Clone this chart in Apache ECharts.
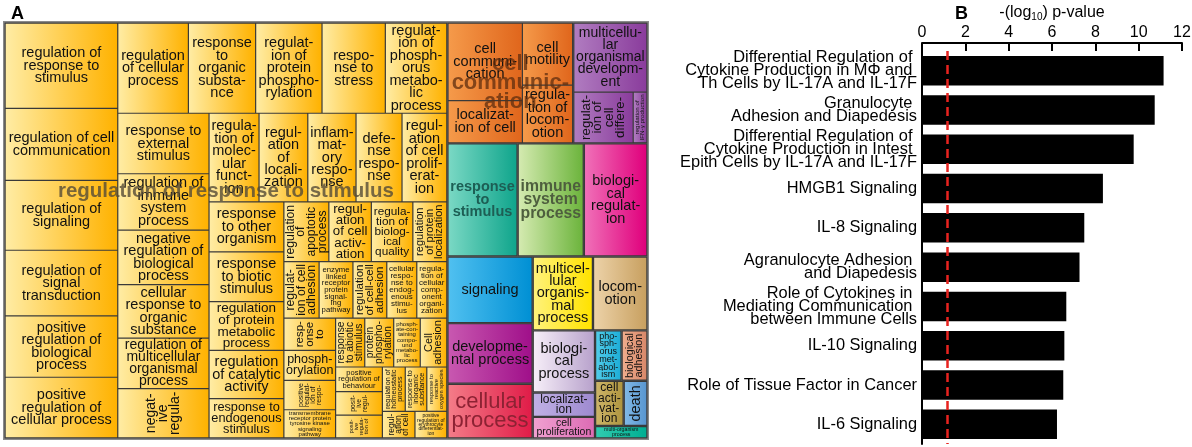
<!DOCTYPE html>
<html><head><meta charset="utf-8">
<script src="https://cdn.jsdelivr.net/npm/echarts@6/dist/echarts.min.js"></script>
<style>html,body{margin:0;padding:0;background:#fff}#c{width:1192px;height:447px}</style>
</head><body><div id="c"></div>
<script>
// ---------- Panel A data (REVIGO treemap; cell sizes) ----------
const groupLabels = [
  'regulation of response to stimulus', 'cell communication', 'multicellular organismal development',
  'response to stimulus', 'immune system process', 'biological regulation', 'signaling',
  'developmental process', 'cellular process', 'multicellular organismal process', 'locomotion',
  'biological process', 'localization', 'cell proliferation', 'phosphorus metabolism',
  'biological adhesion', 'cell activation', 'death', 'multi-organism process'
];
const termLabels = [
  'regulation of response to stimulus','regulation of cell communication','regulation of signaling','regulation of signal transduction',
  'positive regulation of biological process','positive regulation of cellular process','regulation of cellular process','response to organic substance','regulation of protein phosphorylation',
  'response to stress','regulation of phosphorus metabolic process','response to external stimulus','regulation of immune system process','negative regulation of biological process',
  'cellular response to organic substance','regulation of molecular function','inflammatory response','defense response','response to other organism',
  'regulation of multicellular organismal process','negative regulation of cellular process','regulation of localization',
  'regulation of cell proliferation','response to biotic stimulus','regulation of protein metabolic process','regulation of catalytic activity',
  'response to endogenous stimulus','regulation of apoptotic process','regulation of cell activation','regulation of biological quality',
  'regulation of protein localization','regulation of cellular component organization','cellular response to endogenous stimulus','response to wounding','transmembrane receptor protein tyrosine kinase signaling pathway',
  'regulation of cell adhesion','regulation of cell-cell adhesion','enzyme linked receptor protein signaling pathway',
  'phosphorylation','response to abiotic stimulus','Cell adhesion','phosphate-containing compound metabolic process',
  'positive regulation of response to external stimulus','protein phosphorylation','positive regulation of behaviour','positive regulation of IL-2 production',
  'regulation of homeostatic process','positive regulation of acute inflammatory response','response to inorganic substance','regulation of cell cycle',
  'response to reactive oxygen species','positive regulation of erythrocyte differentiation',
  'cell communication','cell motility','localization of cell','regulation of locomotion',
  'multicellular organismal development','regulation of cell differentiation','regulation of IFN-γ production',
  'response to stimulus','immune system process','biological regulation','signaling','developmental process','cellular process',
  'multicellular organismal process','locomotion','biological process','localization','cell proliferation','phosphorus metabolism',
  'biological adhesion','cell activation','death','multi-organism process'
];
const termGroup = [
  0,0,0,0, 0,0,0,0,0, 0,0,0,0,0, 0,0,0,0,0, 0,0,0, 0,0,0,0, 0,0,0,0, 0,0,0,0,0, 0,0,0, 0,0,0,0, 0,0,0,0, 0,0,0,0, 0,0,
  1,1,1,1, 2,2,2, 3,4,5,6,7,8, 9,10,11,12,13,14, 15,16,17,18
];
const termSizes = [
  97.6,82.4,80.0,75.2, 70.2,69.4,64.7,61.6,60.8, 58.0,56.3,56.1,52.3,50.4, 49.6,45.0,43.4,41.4,38.0, 47.0,45.6,43.9,
  40.3,37.8,37.2,36.6, 29.9,27.3,25.8,25.2, 20.6,17.2,17.2,17.0,14.8, 20.2,19.4,19.4, 15.8,14.5,13.2,13.2,
  15.4,14.4,11.7,11.2, 10.3,10.8,9.7,8.8, 9.0,8.6,
  59.4,32.1,32.3,29.8, 52.3,31.2,7.2,
  80.3,75.7,72.8,57.4,52.2,47.2, 45.0,40.7,39.1,15.4,13.6,13.5, 13.2,13.1,10.9,6.6
];

// ---------- Panel B data ----------
const pathways = [
  'Differential Regulation of \nCytokine Production in MΦ and \nTh Cells by IL-17A and IL-17F',
  'Granulocyte \nAdhesion and Diapedesis',
  'Differential Regulation of \nCytokine Production in Intest \nEpith Cells by IL-17A and IL-17F',
  'HMGB1 Signaling',
  'IL-8 Signaling',
  'Agranulocyte Adhesion \nand Diapedesis',
  'Role of Cytokines in \nMediating Communication \nbetween Immune Cells',
  'IL-10 Signaling',
  'Role of Tissue Factor in Cancer',
  'IL-6 Signaling'
];
const negLogP = [11.15, 10.74, 9.77, 8.35, 7.49, 7.27, 6.66, 6.57, 6.52, 6.23];
const thresholdValue = 1.15;
const xTicks = [0, 2, 4, 6, 8, 10, 12];

// ---------- styles ----------
const FONT = 'Liberation Sans, Arial, sans-serif';
const groupGradients = [
  ['#ffeca4','#ffb200'],['#f59a4a','#e0661c'],['#b07cc0','#8a3c9c'],['#7ad8c4','#10a58c'],
  ['#d4eab0','#6cb43c'],['#f070b8','#e0007c'],['#50c0f0','#0090d4'],['#c858b0','#a0108a'],
  ['#f47c88','#e01c48'],['#fff27a','#ffe200'],['#ecd2a8','#c8a060'],['#f6eef8','#b8a2cc'],
  ['#c0b0e4','#9e8ad0'],['#f0a0d0','#dc6cb4'],['#50cce8','#1eaed8'],['#eeac8c','#d8886a'],
  ['#ccb468','#b09640'],['#80b8e6','#5896d0'],['#30ccb0','#00ae92']
];
const bigLeafLabels = {
  'response to stimulus': {maxFs: 23, bold: true, color: '#1d5e54', rot: false},
  'immune system process': {maxFs: 21, bold: true, color: '#4e5e3e', rot: false},
  'cellular process': {maxFs: 22, bold: false, color: '#8c2233', rot: true}
};
const groupOverlayLabels = {
  'regulation of response to stimulus': {maxFs: 20.5, bold: true, color: 'rgba(85,75,55,0.8)', yFrac: 0.405},
  'cell communication': {maxFs: 22, bold: true, color: 'rgba(95,45,15,0.75)', yFrac: 0.5}
};

function grad(c) {
  return {type: 'linear', x: 0, y: 0, x2: 1, y2: 0, colorStops: [{offset: 0, color: c[0]}, {offset: 1, color: c[1]}]};
}

// text fitting helpers (style derived from the library's own layout)
const LH = 0.86;
const mctx = document.createElement('canvas').getContext('2d');
function measure(t, fs, bold) { mctx.font = (bold ? 'bold ' : '') + fs + 'px ' + FONT; return mctx.measureText(t).width; }
function wrap(words, W, fs, bold, hyph) {
  const lines = []; let cur = '';
  const place = (w) => {
    while (measure(w, fs, bold) > W) {
      if (!hyph) return false;
      let found = -1;
      for (let k = w.length - 3; k >= 3; k--) {
        if (measure(w.slice(0, k) + '-', fs, bold) <= W) { found = k; break; }
      }
      if (found < 0) return false;
      lines.push(w.slice(0, found) + '-'); w = w.slice(found);
    }
    cur = w; return true;
  };
  for (const w of words) {
    if (!cur) { if (!place(w)) return null; }
    else if (measure(cur + ' ' + w, fs, bold) <= W) cur += ' ' + w;
    else { lines.push(cur); cur = ''; if (!place(w)) return null; }
  }
  if (cur) lines.push(cur);
  return lines;
}
function fit(text, w, h, maxFs, bold, allowRot, hyph) {
  const words = text.split(' ');
  for (let fs = maxFs; fs >= 3.5; fs -= 0.25) {
    for (const rot of (allowRot ? [0, 90] : [0])) {
      const W = (rot ? h : w) - 3, H = (rot ? w : h) - 1;
      const lines = wrap(words, W, fs, bold, hyph);
      if (lines && lines.length * fs * LH <= H) return {fs, rot, lines};
    }
  }
  return {fs: 3.5, rot: 0, lines: words};
}

const treeData = groupLabels.map((g, gi) => ({
  name: g,
  itemStyle: {color: grad(groupGradients[gi])},
  children: termLabels.map((t, i) => ({t, i})).filter(o => termGroup[o.i] === gi).map(o => ({
    name: o.t, value: termSizes[o.i], itemStyle: {color: grad(groupGradients[gi])}, label: {show: false}
  }))
}));

const chart = echarts.init(document.getElementById('c'), null, {renderer: 'canvas'});
const tmBox = {left: 3, top: 21, width: 646, height: 419};
chart.setOption({
  animation: false,
  textStyle: {fontFamily: FONT},
  title: [
    {text: 'A', left: 6, top: 0, textStyle: {fontSize: 18, fontWeight: 'bold', color: '#000', fontFamily: FONT}},
    {text: 'B', left: 950, top: 0, textStyle: {fontSize: 18, fontWeight: 'bold', color: '#000', fontFamily: FONT}}
  ],
  grid: {left: 922, right: 10, top: 51, bottom: 3, containLabel: false, outerBoundsMode: 'none'},
  xAxis: {
    type: 'value', position: 'top', offset: 8, min: xTicks[0], max: xTicks[xTicks.length - 1], interval: 2,
    name: '-(log{sub|10}) p-value', nameLocation: 'middle', nameGap: 21, nameMoveOverlap: false,
    nameTextStyle: {fontSize: 16, color: '#000', fontFamily: FONT,
      rich: {sub: {fontSize: 10, verticalAlign: 'bottom', padding: [8, 0, 0, 0], color: '#000'}}},
    axisLine: {show: true, lineStyle: {color: '#000', width: 2}},
    axisTick: {show: true, inside: true, length: 8, lineStyle: {color: '#000', width: 2}},
    axisLabel: {fontSize: 16, color: '#000', margin: 2, fontFamily: FONT},
    splitLine: {show: false}
  },
  yAxis: {
    type: 'category', data: pathways, inverse: true,
    axisLine: {show: true, lineStyle: {color: '#000', width: 2}},
    axisTick: {show: false},
    axisLabel: {fontSize: 16.4, lineHeight: 13, color: '#000', margin: 5, fontFamily: FONT, align: 'right'}
  },
  series: [
    {
      id: 'tm', type: 'treemap', ...tmBox, roam: false, nodeClick: false, breadcrumb: {show: false},
      visibleMin: 0, childrenVisibleMin: 0, silent: true,
      label: {show: true, position: 'inside', color: '#111', fontFamily: FONT, overflow: 'none', align: 'center', verticalAlign: 'middle', padding: 0},
      upperLabel: {show: false},
      itemStyle: {borderColor: '#3a3a3a'},
      levels: [
        {itemStyle: {borderWidth: 1.5, borderColor: '#8a8a8a', gapWidth: 0}},
        {itemStyle: {borderWidth: 0.6, borderColor: '#3a3a3a', gapWidth: 0}},
        {itemStyle: {borderWidth: 0.6, borderColor: '#3a3a3a', gapWidth: 0}}
      ],
      data: treeData
    },
    {
      type: 'bar', data: negLogP, barCategoryGap: '25%', itemStyle: {color: '#000'},
      markLine: {
        silent: true, symbol: 'none', label: {show: false},
        lineStyle: {color: '#e8231f', type: [9, 5], width: 2.5},
        data: [{xAxis: thresholdValue}]
      }
    }
  ]
});

// second pass: fit labels into the cells that the treemap layout produced
const root = chart.getModel().getSeriesByIndex(0).getData().tree.root;
function absPos(node) {
  let x = tmBox.left, y = tmBox.top, n = node;
  while (n) { const l = n.getLayout(); if (l) { x += l.x; y += l.y; } n = n.parentNode; }
  return {x, y};
}
const graphics = [];
root.children.forEach(gNode => {
  const gi = groupLabels.indexOf(gNode.name);
  if (gi < 0) return;
  const gd = treeData[gi];
  gNode.children.forEach(leaf => {
    const item = gd.children.find(c => c.name === leaf.name);
    if (!item) return;
    const l = leaf.getLayout();
    const bw = (l.borderWidth || 0) * 2;
    const big = bigLeafLabels[leaf.name];
    const f = fit(leaf.name, l.width - bw, l.height - bw, big ? big.maxFs : 14.5, big ? big.bold : false,
      big ? big.rot : true, !big);
    item.label = {
      show: true, formatter: f.lines.join('\n'), fontSize: f.fs, lineHeight: f.fs * LH, rotate: f.rot,
      fontWeight: big && big.bold ? 'bold' : 'normal', color: big ? big.color : '#111'
    };
  });
  const ov = groupOverlayLabels[gNode.name];
  if (ov) {
    const l = gNode.getLayout();
    const p = absPos(gNode);
    const f = fit(gNode.name, l.width - 4, l.height - 4, ov.maxFs, ov.bold, false, true);
    graphics.push({
      type: 'text', z: 100, silent: true,
      style: {
        text: f.lines.join('\n'), x: p.x + l.width / 2, y: p.y + l.height * ov.yFrac,
        align: 'center', verticalAlign: 'middle', fontSize: f.fs, lineHeight: f.fs * 0.85,
        fontWeight: ov.bold ? 'bold' : 'normal', fontFamily: FONT, fill: ov.color
      }
    });
  }
});
chart.setOption({series: [{id: 'tm', data: treeData}], graphic: graphics});
</script>
</body></html>
